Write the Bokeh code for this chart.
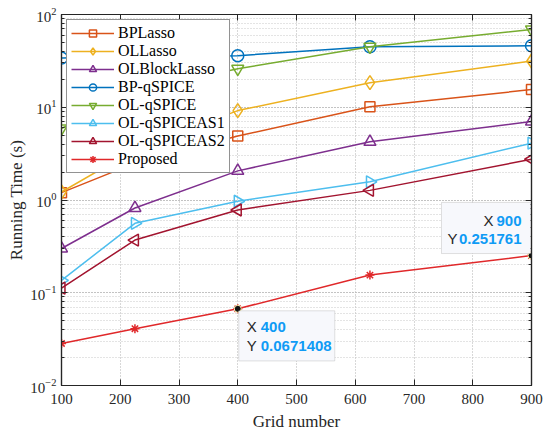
import math
from bokeh.plotting import figure
from bokeh.models import (LogAxis, LinearAxis, FixedTicker, LogTicker, BoxAnnotation, Label, Legend)
from bokeh.embed import file_html
from bokeh.resources import INLINE

grid = [100, 225, 400, 625, 900]
bplasso = [1.2, 2.5, 4.9, 10.1, 15.5]
ollasso = [1.22, 3.5, 9.2, 18.4, 31.5]
olblock = [0.30, 0.82, 2.06, 4.24, 7.0]
bpqspice = [34, 35, 36, 45, 46]
olqspice = [5.9, 15, 26, 45, 69]
olas1 = [0.136, 0.56, 0.97, 1.57, 4.1]
olas2 = [0.112, 0.37, 0.78, 1.27, 2.75]
proposed = [0.0284, 0.041, 0.0671408, 0.155, 0.251761]

series = [
    ("BPLasso", bplasso, "#D95319", "square", 0, 10),
    ("OLLasso", ollasso, "#EDB120", "diamond", 0, 14),
    ("OLBlockLasso", olblock, "#7E2F8E", "triangle", 0, 12),
    ("BP-qSPICE", bpqspice, "#0072BD", "circle", 0, 12),
    ("OL-qSPICE", olqspice, "#77AC30", "inverted_triangle", 0, 12),
    ("OL-qSPICEAS1", olas1, "#4DBEEE", "triangle", -math.pi / 2, 12),
    ("OL-qSPICEAS2", olas2, "#A2142F", "triangle", math.pi / 2, 12),
    ("Proposed", proposed, "#E0282A", "asterisk", 0, 9),
]

SERIF = "Liberation Serif"
SANS = "Liberation Sans"
DARK = "#262626"

p = figure(width=546, height=433, output_backend="svg", toolbar_location=None,
           y_axis_type="log", x_range=(100, 900), y_range=(0.01, 100),
           min_border_left=61, min_border_right=15, min_border_top=14, min_border_bottom=47)
p.outline_line_color = DARK
p.outline_line_width = 1.2

items = []
for name, vals, col, mk, ang, sz in series:
    r1 = p.line(grid, vals, line_color=col, line_width=1.5)
    r2 = p.scatter(grid, vals, marker=mk, angle=ang, size=sz, fill_color=None,
                   line_color=col, line_width=1.5)
    items.append((name, [r1, r2]))

legend = Legend(items=items, location="top_left")
legend.label_text_font = SERIF
legend.label_text_font_size = "16px"
legend.label_text_color = "#000000"
legend.border_line_color = DARK
legend.border_line_width = 1
legend.background_fill_color = "white"
legend.background_fill_alpha = 1
legend.glyph_width = 43
legend.glyph_height = 18
legend.label_height = 18
legend.label_standoff = 4
legend.spacing = 0
legend.padding = 4
legend.margin = 5
p.add_layout(legend)

def style_axis(ax):
    ax.major_label_text_font = SERIF
    ax.major_label_text_font_size = "15px"
    ax.major_label_text_color = DARK
    ax.axis_label_text_font = SERIF
    ax.axis_label_text_font_size = "17px"
    ax.axis_label_text_font_style = "normal"
    ax.axis_label_text_color = DARK
    ax.axis_line_color = DARK
    ax.axis_line_width = 1.2
    ax.major_tick_in = 6
    ax.major_tick_out = 0
    ax.minor_tick_in = 3
    ax.minor_tick_out = 0
    ax.major_tick_line_color = DARK
    ax.minor_tick_line_color = DARK

for ax in [p.xaxis[0], p.yaxis[0]]:
    style_axis(ax)

p.xaxis.axis_label = "Grid number"
p.yaxis.axis_label = "Running Time (s)"
xticks = [100, 200, 300, 400, 500, 600, 700, 800, 900]
p.xaxis.ticker = FixedTicker(ticks=xticks, minor_ticks=[])
p.yaxis.ticker = LogTicker(num_minor_ticks=10)
p.xaxis.major_label_standoff = 8
p.yaxis.major_label_standoff = 5
p.yaxis.axis_label_standoff = 1
p.xaxis.axis_label_standoff = 5

# mirrored ticks (box on)
ra = LogAxis(ticker=LogTicker(num_minor_ticks=10))
style_axis(ra)
ra.major_label_text_font_size = "1px"
ra.major_label_text_alpha = 0
ra.major_label_standoff = 0
p.add_layout(ra, "right")
ta = LinearAxis(ticker=FixedTicker(ticks=xticks, minor_ticks=[]))
style_axis(ta)
ta.major_label_text_font_size = "1px"
ta.major_label_text_alpha = 0
ta.major_label_standoff = 0
p.add_layout(ta, "above")

p.xgrid.grid_line_color = "#B0B0B0"
p.xgrid.grid_line_dash = "1 2"
p.ygrid.grid_line_color = "#B0B0B0"
p.ygrid.grid_line_dash = "1 2"
p.ygrid.minor_grid_line_color = "#C8C8C8"
p.ygrid.minor_grid_line_dash = "1 2"

# data tips
PXX = 800 / 470.0
DEC = 92.5
def dy(v, px):
    return v * 10 ** (-px / DEC)

p.add_layout(BoxAnnotation(left=grid[2] + 1 * PXX, right=grid[2] + 97 * PXX,
                           top=dy(proposed[2], 2), bottom=dy(proposed[2], 52),
                           fill_color="#F7F8FC", fill_alpha=1, line_color="#9A9A9A", line_width=1))
p.add_layout(BoxAnnotation(left=grid[4] - 90 * PXX, right=grid[4] - 1 * PXX,
                           top=dy(proposed[4], -53), bottom=dy(proposed[4], -2),
                           fill_color="#F7F8FC", fill_alpha=1, line_color="#9A9A9A", line_width=1))

p.scatter([grid[2], grid[4]], [proposed[2], proposed[4]], marker="circle", size=7,
          fill_color="#111111", line_color="#FFF3B0", line_width=1)

blue = "#0F9BF5"
def tip(x, y, text, xo, yo, color, align, bold):
    p.add_layout(Label(x=x, y=y, text=text, x_offset=xo, y_offset=yo, text_color=color,
                       text_align=align, text_baseline="middle", text_font=SANS,
                       text_font_size="15px", text_font_style="bold" if bold else "normal"))

tip(grid[2], proposed[2], "X", 9, -18, DARK, "left", False)
tip(grid[2], proposed[2], str(grid[2]), 23, -18, blue, "left", True)
tip(grid[2], proposed[2], "Y", 9, -37, DARK, "left", False)
tip(grid[2], proposed[2], str(proposed[2]), 23, -37, blue, "left", True)
tip(grid[4], proposed[4], str(grid[4]), -10, 35, blue, "right", True)
tip(grid[4], proposed[4], "X", -38, 35, DARK, "right", False)
tip(grid[4], proposed[4], str(proposed[4]), -10, 17, blue, "right", True)
tip(grid[4], proposed[4], "Y", -74, 17, DARK, "right", False)

open("out.html", "w").write(file_html(p, INLINE))
